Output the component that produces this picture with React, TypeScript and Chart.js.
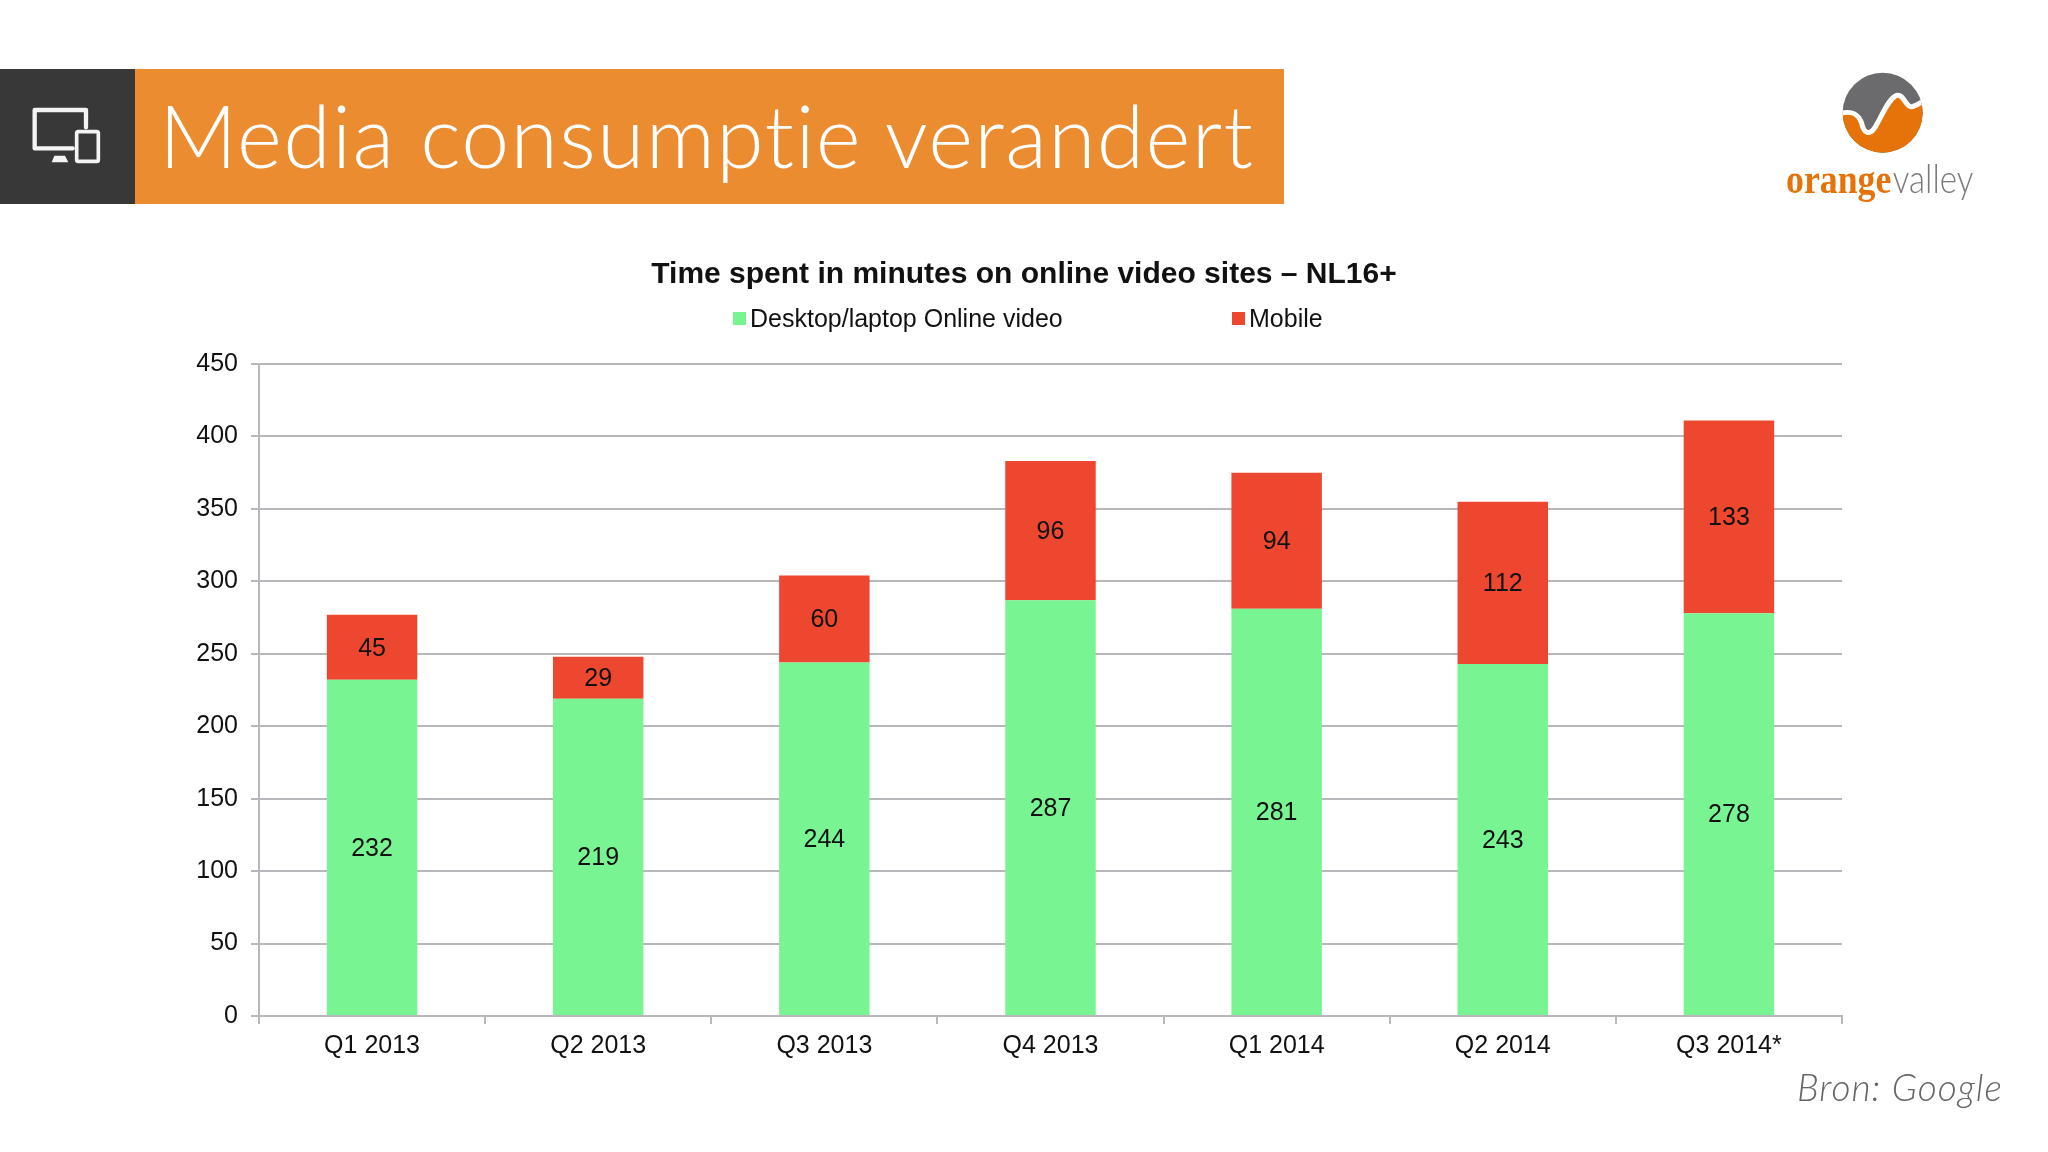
import { useEffect, useRef } from "react"
import { Chart, registerables, type Plugin } from "chart.js"

Chart.register(...registerables)

const categories = ["Q1 2013", "Q2 2013", "Q3 2013", "Q4 2013", "Q1 2014", "Q2 2014", "Q3 2014*"]
const desktopValues = [232, 219, 244, 287, 281, 243, 278]
const mobileValues = [45, 29, 60, 96, 94, 112, 133]

const GREEN = "#78f493"
const RED = "#ee4730"
const GRID = "#b9b7bb"
const INK = "#111"
const FONT = "'Liberation Sans', sans-serif"

// waarden midden in de balken
const valueLabels: Plugin<"bar"> = {
  id: "valueLabels",
  afterDatasetsDraw(chart) {
    const { ctx } = chart
    ctx.save()
    ctx.font = `25px ${FONT}`
    ctx.fillStyle = INK
    ctx.textAlign = "center"
    ctx.textBaseline = "middle"
    chart.data.datasets.forEach((ds, i) => {
      chart.getDatasetMeta(i).data.forEach((bar, j) => {
        const p = bar.getCenterPoint()
        ctx.fillText(String(ds.data[j]), p.x, p.y + 1.5)
      })
    })
    ctx.restore()
  },
}

// legenda met grote tussenruimte, de standaard legend kan dat niet
const wideLegend: Plugin<"bar"> = {
  id: "wideLegend",
  afterDraw(chart) {
    const { ctx } = chart
    const starts = [733, 1232]
    ctx.save()
    ctx.font = `25px ${FONT}`
    ctx.textBaseline = "middle"
    chart.data.datasets.forEach((ds, i) => {
      ctx.fillStyle = ds.backgroundColor as string
      ctx.fillRect(starts[i], 312, 13, 13)
      ctx.fillStyle = INK
      ctx.fillText(ds.label ?? "", starts[i] + 17, 320)
    })
    ctx.restore()
  },
}

// titel centreren op de hele pagina, niet op het stuk binnen de padding
const pageTitle: Plugin<"bar"> = {
  id: "pageTitle",
  afterLayout(chart) {
    const block = (chart as any).titleBlock
    block.left = 0
    block.right = 2048
  },
}

function DeviceIcon() {
  return (
    <svg viewBox="0 0 405 405" style={{ position: "absolute", left: 0, top: 0, width: 135, height: 135 }}>
      <path d="M218 238 H104 V123 H258 V175" fill="none" stroke="#f4f4f4" strokeWidth={13} strokeLinejoin="round" strokeLinecap="round" />
      <rect x={230} y={188} width={65} height={89} rx={5} fill="none" stroke="#f4f4f4" strokeWidth={11} />
      <polygon points="155,280 163,260 195,260 205,280" fill="#f4f4f4" />
    </svg>
  )
}

function Logo() {
  const wave = "M360 190 C395 182 415 190 425 220 C432 250 448 258 465 232 C485 200 505 145 530 136 C552 130 556 172 575 170 C590 168 600 158 615 150"
  return (
    <svg viewBox="0 0 984 510" style={{ position: "absolute", left: 1720, top: 50, width: 328, height: 170 }}>
      <defs>
        <clipPath id="disc">
          <circle cx={488} cy={188} r={120} />
        </clipPath>
      </defs>
      <g clipPath="url(#disc)">
        <rect x={360} y={60} width={260} height={260} fill="#6b6b6d" />
        <path d={`${wave} L620 320 L360 320 Z`} fill="#e5730a" />
        <path d={wave} fill="none" stroke="#fff" strokeWidth={15} />
      </g>
      <text x={198} y={430} fontFamily="'Liberation Serif', serif" fontWeight="bold" fontSize={122} fill="#e5730a" textLength={316} lengthAdjust="spacingAndGlyphs">orange</text>
      <text x={518} y={430} fontFamily="'Lato', sans-serif" fontWeight={300} fontSize={118} fill="#7a7a7c" textLength={242} lengthAdjust="spacingAndGlyphs">valley</text>
    </svg>
  )
}

export default function App() {
  const chartRef = useRef<HTMLCanvasElement>(null)

  useEffect(() => {
    if (!chartRef.current) return
    const chart = new Chart(chartRef.current, {
      type: "bar",
      data: {
        labels: categories,
        datasets: [
          { label: "Desktop/laptop Online video", data: desktopValues, backgroundColor: GREEN, barPercentage: 0.4, categoryPercentage: 1 },
          { label: "Mobile", data: mobileValues, backgroundColor: RED, barPercentage: 0.4, categoryPercentage: 1 },
        ],
      },
      options: {
        responsive: false,
        animation: false,
        layout: { padding: { left: 0, right: 206, top: 0, bottom: 0 } },
        plugins: {
          legend: { display: false },
          tooltip: { enabled: false },
          title: {
            display: true,
            text: "Time spent in minutes on online video sites – NL16+",
            color: "#111",
            font: { family: FONT, size: 30, weight: "bold", lineHeight: 1.2 },
            padding: { top: 257, bottom: 71 },
          },
        },
        scales: {
          x: {
            stacked: true,
            afterFit: (s) => { s.height = 136 },
            grid: { drawOnChartArea: false, drawTicks: true, tickLength: 8, color: GRID, lineWidth: 2, offset: true },
            border: { color: GRID, width: 2 },
            ticks: { color: INK, font: { family: FONT, size: 25 }, padding: 7, maxRotation: 0 },
          },
          y: {
            stacked: true,
            min: 0,
            max: 450,
            afterFit: (s) => { s.width = 259 },
            grid: { color: GRID, lineWidth: 2, tickLength: 8 },
            border: { color: GRID, width: 2 },
            ticks: { stepSize: 50, color: INK, font: { family: FONT, size: 25 }, padding: 13 },
          },
        },
      },
      plugins: [valueLabels, wideLegend, pageTitle],
    })
    return () => chart.destroy()
  }, [])

  return (
    <div style={{ position: "fixed", left: 0, top: 0, width: 2048, height: 1152, background: "#fff", overflow: "hidden" }}>
      <canvas ref={chartRef} width={2048} height={1152} style={{ position: "absolute", left: 0, top: 0, display: "block" }} />
      <div style={{ position: "absolute", left: 0, top: 69, width: 135, height: 135, background: "#383838" }}>
        <DeviceIcon />
      </div>
      <div style={{ position: "absolute", left: 135, top: 69, width: 1149, height: 135, background: "#ec8c30", color: "#fff", fontFamily: "Lato, sans-serif", fontWeight: 300, fontSize: 86, lineHeight: "131px", paddingLeft: 24, boxSizing: "border-box", whiteSpace: "nowrap", letterSpacing: 1.35 }}>
        Media consumptie verandert
      </div>
      <Logo />
      <div style={{ position: "absolute", left: 1797, top: 1064, fontFamily: "Lato, sans-serif", fontWeight: 300, fontStyle: "italic", fontSize: 37, letterSpacing: 1, color: "#666", whiteSpace: "nowrap" }}>
        Bron: Google
      </div>
    </div>
  )
}
